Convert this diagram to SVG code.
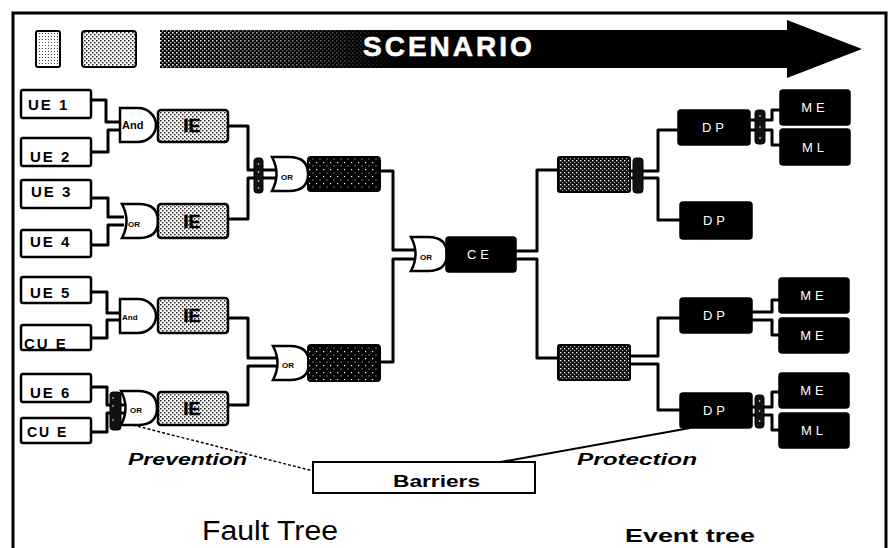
<svg xmlns="http://www.w3.org/2000/svg" width="892" height="548" viewBox="0 0 892 548">
<defs>
<pattern id="pLight" width="3" height="3" patternUnits="userSpaceOnUse"><rect width="3" height="3" fill="#fff"/><rect width="1" height="1" fill="#444"/></pattern>
<pattern id="pIE" width="4" height="4" patternUnits="userSpaceOnUse"><rect width="4" height="4" fill="#fff"/><rect width="1.5" height="1.5" fill="#222"/><rect x="2" y="2" width="1.5" height="1.5" fill="#222"/></pattern>
<pattern id="pDark" width="7" height="7" patternUnits="userSpaceOnUse"><rect width="7" height="7" fill="#000"/><rect x="1" y="1" width="1.2" height="1.2" fill="#fff"/><rect x="4.5" y="4.5" width="1" height="1" fill="#ddd"/></pattern>
<pattern id="pHatch" width="4" height="4" patternUnits="userSpaceOnUse"><rect width="4" height="4" fill="#111"/><rect width="1.3" height="1.3" fill="#fff"/><rect x="2" y="2" width="1.1" height="1.1" fill="#bbb"/></pattern>
<pattern id="pArrow" width="4" height="4" patternUnits="userSpaceOnUse"><rect width="4" height="4" fill="#000"/><rect width="1.6" height="1.6" fill="#fff"/><rect x="2" y="2" width="1.4" height="1.4" fill="#ccc"/></pattern>
<linearGradient id="gFade" x1="160" y1="0" x2="400" y2="0" gradientUnits="userSpaceOnUse">
<stop offset="0" stop-color="#fff" stop-opacity="1"/><stop offset="0.45" stop-color="#fff" stop-opacity="0.6"/><stop offset="1" stop-color="#fff" stop-opacity="0"/>
</linearGradient>
<mask id="mFade"><rect x="160" y="20" width="702" height="60" fill="url(#gFade)"/></mask>
<path id="andG" d="M0,0 H18 A18,17 0 0 1 18,34 H0 Z"/>
<path id="orG" d="M0,0 Q9,17 0,34 H17 Q36,34 36,17 Q36,0 17,0 Z"/>
</defs>
<style>
.frame{fill:none;stroke:#000;stroke-width:3}
.conn{fill:none;stroke:#000;stroke-width:3;stroke-linejoin:round}
.box{fill:#fff;stroke:#000;stroke-width:2.5}
.gate{fill:#fff;stroke:#000;stroke-width:2.5}
.ie{fill:url(#pIE);stroke:#000;stroke-width:2.5}
.dark{fill:url(#pDark);stroke:#000;stroke-width:2}
.hatch{fill:url(#pHatch);stroke:#000;stroke-width:2}
.blk{fill:#000;stroke:#000;stroke-width:1.5}
.bar{fill:#111;stroke:#000;stroke-width:1}
.t{font-family:"Liberation Sans",Arial,sans-serif;font-weight:bold;fill:#000}
.ue{font-size:15px;letter-spacing:2px}
.iet{font-size:18px;text-anchor:middle;stroke:#000;stroke-width:0.6}
.w{font-family:"Liberation Sans",Arial,sans-serif;fill:#fff;font-size:13px;letter-spacing:4px;text-anchor:middle}
</style>
<rect width="892" height="548" fill="#fff"/>
<path class="frame" d="M13,548 V13 H886 V548"/>

<g id="legend">
<rect x="36" y="31" width="24" height="36" rx="2" fill="url(#pLight)" stroke="#000" stroke-width="2"/>
<rect x="82" y="31" width="54" height="36" rx="3" fill="url(#pIE)" stroke="#000" stroke-width="2"/>
</g>
<g id="scenario">
<polygon points="160,30 787,30 787,20 862,49 787,78 787,68 160,68" fill="#000"/>
<rect x="160" y="30" width="240" height="38" fill="url(#pArrow)" mask="url(#mFade)"/>
<text x="363" y="56" font-family="Liberation Sans, Arial, sans-serif" font-weight="bold" font-size="28" letter-spacing="3" fill="#fff" stroke="#fff" stroke-width="0.6">SCENARIO</text>
</g>

<g id="connectors">
<path class="conn" d="M91,100 H106 V122 H122"/>
<path class="conn" d="M91,152 H108 V130 H122"/>
<path class="conn" d="M91,198 H108 V217 H124"/>
<path class="conn" d="M91,245 H108 V225 H124"/>
<path class="conn" d="M91,292 H107 V313 H122"/>
<path class="conn" d="M91,338 H107 V320 H122"/>
<path class="conn" d="M91,387 H107 V405 H124"/>
<path class="conn" d="M91,432 H107 V413 H124"/>
<path class="conn" d="M228,126 H248 V170 H276"/>
<path class="conn" d="M228,219 H248 V178 H276"/>
<path class="conn" d="M228,318 H248 V358 H277"/>
<path class="conn" d="M228,405 H248 V366 H277"/>
<path class="conn" d="M380,171 H393 V250 H414"/>
<path class="conn" d="M380,362 H393 V259 H414"/>
<path class="conn" d="M516,251 H537 V170 H558"/>
<path class="conn" d="M516,259 H537 V358 H558"/>
<path class="conn" d="M630,171 H658 V130 H678"/>
<path class="conn" d="M630,178 H658 V220 H680"/>
<path class="conn" d="M630,356 H658 V318 H680"/>
<path class="conn" d="M630,364 H658 V410 H680"/>
<path class="conn" d="M750,120 H772 V110 H780"/>
<path class="conn" d="M750,130 H772 V145 H780"/>
<path class="conn" d="M752,312 H772 V300 H779"/>
<path class="conn" d="M752,320 H772 V335 H779"/>
<path class="conn" d="M752,407 H772 V392 H779"/>
<path class="conn" d="M752,415 H772 V430 H779"/>
<path d="M133,425 L313,471" fill="none" stroke="#000" stroke-width="1.5" stroke-dasharray="3 2"/>
<path d="M495,463 L690,428" fill="none" stroke="#000" stroke-width="2"/>
</g>

<g id="ue1"><rect class="box" x="21" y="90" width="70" height="28" rx="2"/><text class="t ue" x="28" y="110">UE 1</text></g>
<g id="ue2"><rect class="box" x="21" y="138" width="70" height="28" rx="2"/><text class="t ue" x="30" y="162">UE 2</text></g>
<g id="ue3"><rect class="box" x="21" y="180" width="70" height="28" rx="2"/><text class="t ue" x="31" y="197">UE 3</text></g>
<g id="ue4"><rect class="box" x="21" y="230" width="70" height="27" rx="2"/><text class="t ue" x="30" y="247">UE 4</text></g>
<g id="ue5"><rect class="box" x="21" y="277" width="70" height="26" rx="2"/><text class="t ue" x="30" y="298">UE 5</text></g>
<g id="cue1"><rect class="box" x="21" y="325" width="70" height="25" rx="2"/><text class="t ue" x="24" y="349">CU E</text></g>
<g id="ue6"><rect class="box" x="21" y="374" width="70" height="28" rx="2"/><text class="t ue" x="30" y="398">UE 6</text></g>
<g id="cue2"><rect class="box" x="21" y="418" width="70" height="25" rx="2"/><text class="t" x="27" y="437" font-size="14" letter-spacing="2">CU E</text></g>

<g id="and1"><use href="#andG" class="gate" x="120" y="108"/><text class="t" x="122" y="129" font-size="11">And</text></g>
<g id="ie1"><rect class="ie" x="158" y="110" width="70" height="32" rx="3"/><text class="t iet" x="192" y="132">IE</text></g>
<g id="or2"><use href="#orG" class="gate" x="122" y="204"/><text class="t" x="128" y="227" font-size="8">OR</text></g>
<g id="ie2"><rect class="ie" x="158" y="204" width="70" height="34" rx="3"/><text class="t iet" x="192" y="228">IE</text></g>
<g id="and3"><use href="#andG" class="gate" x="120" y="299"/><text class="t" x="122" y="320" font-size="8">And</text></g>
<g id="ie3"><rect class="ie" x="158" y="298" width="70" height="35" rx="3"/><text class="t iet" x="192" y="322">IE</text></g>
<g id="bar0"><rect class="bar" x="110" y="392" width="11" height="38" rx="3"/><circle cx="113" cy="398" r="0.8" fill="#fff"/><circle cx="113" cy="406" r="0.8" fill="#fff"/><circle cx="113" cy="420" r="0.8" fill="#fff"/></g>
<g id="or5"><use href="#orG" class="gate" x="121" y="391"/><text class="t" x="130" y="413" font-size="8">OR</text></g>
<g id="ie4"><rect class="ie" x="158" y="392" width="70" height="33" rx="3"/><text class="t iet" x="192" y="415">IE</text></g>

<g id="bar1"><rect class="bar" x="254" y="158" width="9" height="35" rx="3"/><circle cx="258.5" cy="164" r="0.8" fill="#fff"/><circle cx="258.5" cy="172" r="0.8" fill="#fff"/><circle cx="258.5" cy="181" r="0.8" fill="#fff"/><circle cx="258.5" cy="188" r="0.8" fill="#fff"/></g>
<g id="or3"><use href="#orG" class="gate" x="272" y="157"/><text class="t" x="281" y="180" font-size="8">OR</text></g>
<g id="f1"><rect class="dark" x="308" y="157" width="72" height="34" rx="3"/></g>
<g id="or4"><use href="#orG" class="gate" x="273" y="346"/><text class="t" x="282" y="368" font-size="8">OR</text></g>
<g id="f2"><rect class="dark" x="308" y="345" width="72" height="36" rx="3"/></g>
<g id="orc"><use href="#orG" class="gate" x="411" y="237"/><text class="t" x="420" y="260" font-size="8">OR</text></g>
<g id="ce"><rect class="blk" x="446" y="237" width="70" height="35" rx="3"/><text class="w" x="480" y="259">CE</text></g>

<g id="h1"><rect class="hatch" x="558" y="157" width="72" height="35" rx="2"/></g>
<g id="bar2"><rect class="bar" x="633" y="158" width="10" height="35" rx="3"/></g>
<g id="h2"><rect class="hatch" x="558" y="345" width="72" height="35" rx="2"/></g>
<g id="dp1"><rect class="blk" x="678" y="110" width="72" height="35" rx="3"/><text class="w" x="715" y="132">DP</text></g>
<g id="bar3"><rect class="bar" x="755" y="110" width="10" height="34" rx="3"/><circle cx="760" cy="116" r="0.8" fill="#fff"/><circle cx="760" cy="127" r="0.8" fill="#fff"/><circle cx="760" cy="138" r="0.8" fill="#fff"/></g>
<g id="dp2"><rect class="blk" x="680" y="202" width="72" height="37" rx="3"/><text class="w" x="716" y="225">DP</text></g>
<g id="dp3"><rect class="blk" x="680" y="298" width="72" height="35" rx="3"/><text class="w" x="716" y="320">DP</text></g>
<g id="dp4"><rect class="blk" x="680" y="393" width="72" height="35" rx="3"/><text class="w" x="716" y="415">DP</text></g>
<g id="bar4"><rect class="bar" x="755" y="395" width="9" height="33" rx="3"/><circle cx="759.5" cy="401" r="0.8" fill="#fff"/><circle cx="759.5" cy="411" r="0.8" fill="#fff"/><circle cx="759.5" cy="421" r="0.8" fill="#fff"/></g>
<g id="me1"><rect class="blk" x="780" y="90" width="70" height="35" rx="3"/><text class="w" x="815" y="112">ME</text></g>
<g id="ml1"><rect class="blk" x="780" y="129" width="70" height="36" rx="3"/><text class="w" x="815" y="152">ML</text></g>
<g id="me3"><rect class="blk" x="779" y="278" width="70" height="35" rx="3"/><text class="w" x="814" y="300">ME</text></g>
<g id="me4"><rect class="blk" x="779" y="318" width="70" height="35" rx="3"/><text class="w" x="814" y="340">ME</text></g>
<g id="me5"><rect class="blk" x="779" y="373" width="70" height="35" rx="3"/><text class="w" x="814" y="395">ME</text></g>
<g id="ml2"><rect class="blk" x="779" y="413" width="70" height="35" rx="3"/><text class="w" x="814" y="435">ML</text></g>

<g id="barriers"><rect x="313" y="462" width="222" height="31" fill="#fff" stroke="#000" stroke-width="2"/><text class="t" x="393" y="487" font-size="16" textLength="87" lengthAdjust="spacingAndGlyphs">Barriers</text></g>
<text class="t" x="128" y="465" font-size="16" font-style="italic" textLength="119" lengthAdjust="spacingAndGlyphs">Prevention</text>
<text class="t" x="577" y="465" font-size="16" font-style="italic" textLength="120" lengthAdjust="spacingAndGlyphs">Protection</text>
<text x="202" y="540" font-family="Liberation Sans, Arial, sans-serif" font-size="27" fill="#000" textLength="136" lengthAdjust="spacingAndGlyphs">Fault Tree</text>
<text class="t" x="625" y="542" font-size="19" textLength="130" lengthAdjust="spacingAndGlyphs">Event tree</text>
</svg>
